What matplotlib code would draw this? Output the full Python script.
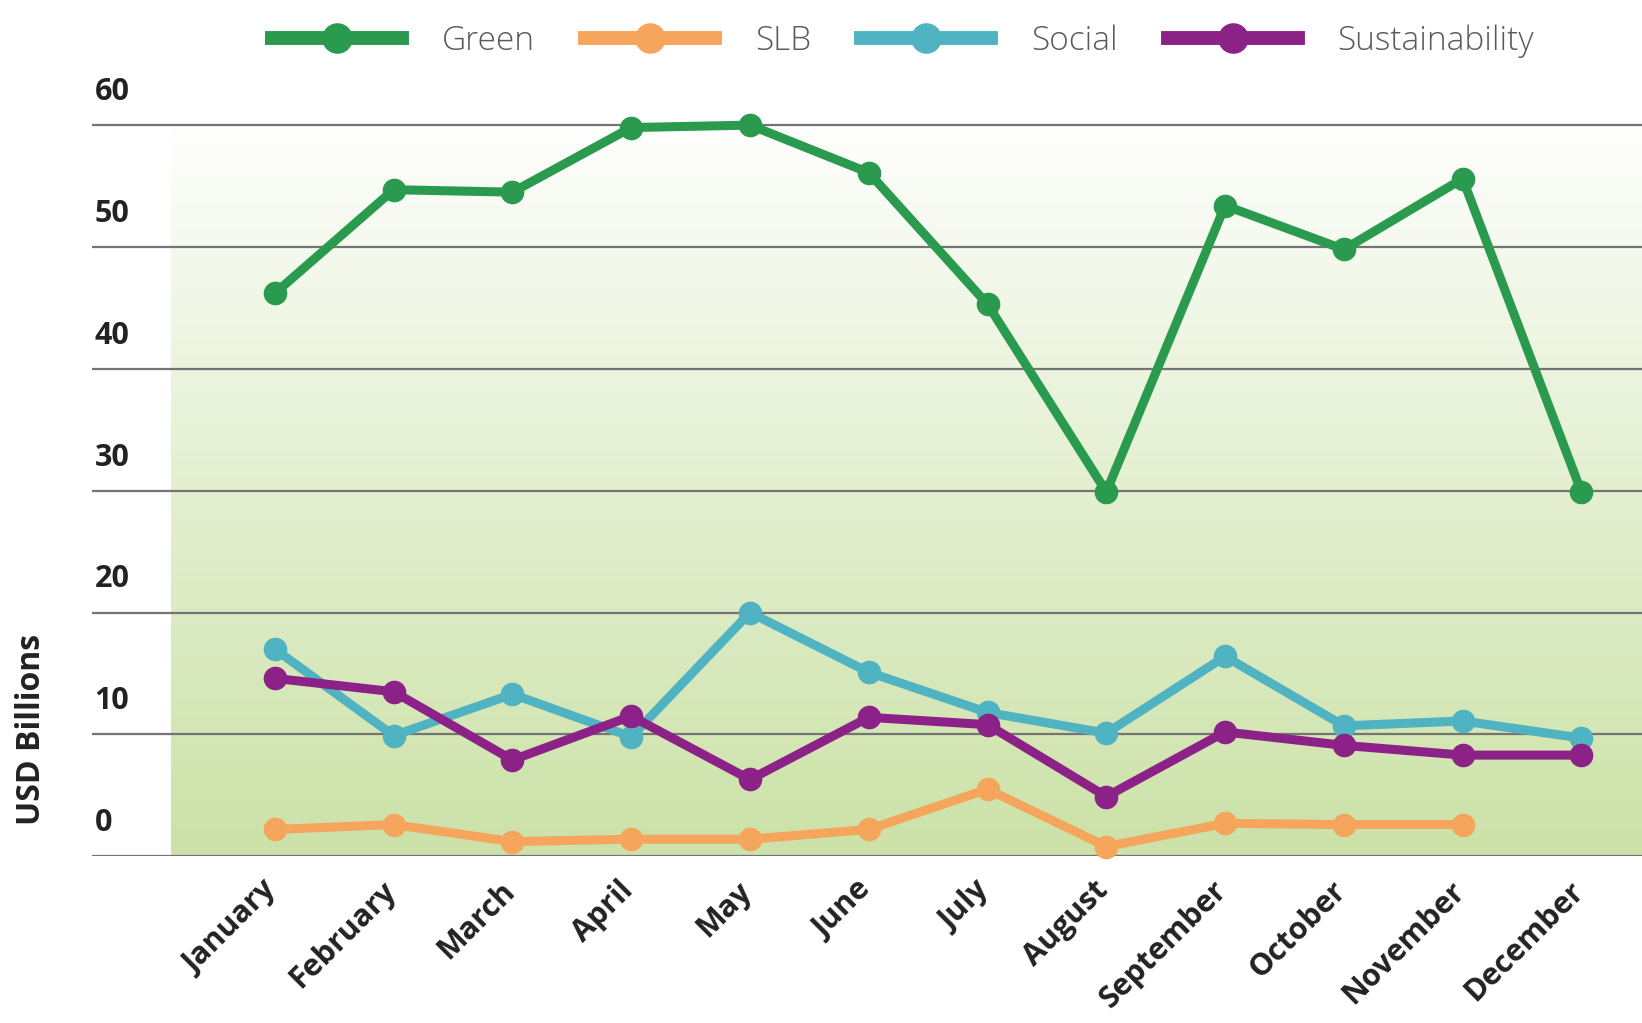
import numpy as np
import matplotlib.pyplot as plt
from matplotlib.transforms import ScaledTranslation

months = ["January", "February", "March", "April", "May", "June", "July",
          "August", "September", "October", "November", "December"]

green = [46.2, 54.7, 54.5, 59.8, 60.0, 56.1, 45.3, 29.9, 53.4, 49.8, 55.6, 29.9]
slb = [2.2, 2.6, 1.2, 1.4, 1.4, 2.2, 5.5, 0.8, 2.7, 2.6, 2.6]
social = [17.0, 9.9, 13.3, 9.8, 20.0, 15.1, 11.8, 10.1, 16.4, 10.7, 11.1, 9.7]
sustainability = [14.6, 13.5, 7.9, 11.5, 6.3, 11.4, 10.8, 4.9, 10.2, 9.1, 8.3, 8.3]

yticks = [0, 10, 20, 30, 40, 50, 60]
ytick_labels = ["0", "10", "20", "30", "40", "50", "60"]

plt.rcParams['font.family'] = ['Open Sans', 'DejaVu Sans']

fig = plt.figure(figsize=(16.42, 10.23), dpi=100)
ax = fig.add_axes([0.056, 0.163, 0.944, 0.754])

x = np.arange(len(months))
ax.set_xlim(-1.54, 11.51)
ax.set_ylim(0, 63.3)

# gradient background: white at the top, light green at the bottom
grad = np.linspace(0, 1, 256).reshape(-1, 1)
top = np.array([1.0, 1.0, 1.0])
bottom = np.array([204, 226, 168]) / 255
img = top + (bottom - top) * grad[..., None] ** 0.9
img = img.reshape(256, 1, 3)
ax.imshow(img, extent=[-0.876, 11.51, 0, 60], origin='upper', aspect='auto', zorder=0)

# gridlines on the major ticks, labels sit a little above each line (minor ticks)
ax.set_yticks(yticks, [""] * len(yticks))
ax.set_yticks([v + 3 for v in yticks], ytick_labels, minor=True)
ax.grid(axis='y', which='major', color='#747474', linewidth=1.6, zorder=1)
ax.set_axisbelow(False)

series = [
    ("Green", green, '#2a9a4e'),
    ("SLB", slb, '#f6a55c'),
    ("Social", social, '#4fb3c1'),
    ("Sustainability", sustainability, '#8c2288'),
]
for name, vals, col in series:
    ax.plot(x[:len(vals)], vals, color=col, lw=6.5, marker='o', ms=16,
            label=name, zorder=3, clip_on=False)

for s in ax.spines.values():
    s.set_visible(False)

ax.tick_params(axis='both', which='both', length=0)
ax.tick_params(axis='y', which='minor', labelsize=22, labelcolor='#222222', pad=-2)
for lab in ax.get_yticklabels(minor=True):
    lab.set_fontweight('bold')
    lab.set_horizontalalignment('left')

ax.set_xticks(x)
ax.set_xticklabels(months, rotation=45, ha='right', rotation_mode='anchor',
                   fontsize=22, fontweight='bold', color='#222222')
ax.tick_params(axis='x', pad=14)
for lab in ax.get_xticklabels():
    lab.set_transform(lab.get_transform() + ScaledTranslation(-0.13, 0, fig.dpi_scale_trans))

fig.text(0.019, 0.2865, "USD Billions", rotation=90, ha='center', va='center',
         fontsize=23, fontweight='bold', color='#222222')

leg = ax.legend(loc='center', bbox_to_anchor=(0.55, 0.96), bbox_transform=fig.transFigure,
                ncol=4, frameon=False, fontsize=24, handlelength=3.9, handletextpad=1.2,
                columnspacing=1.5, labelcolor='#5a5a5a')
for h in leg.legend_handles:
    h.set_linewidth(10)
    h.set_markersize(21)
for t in leg.get_texts():
    t.set_fontweight('light')

fig.savefig('out.png', dpi=100)
